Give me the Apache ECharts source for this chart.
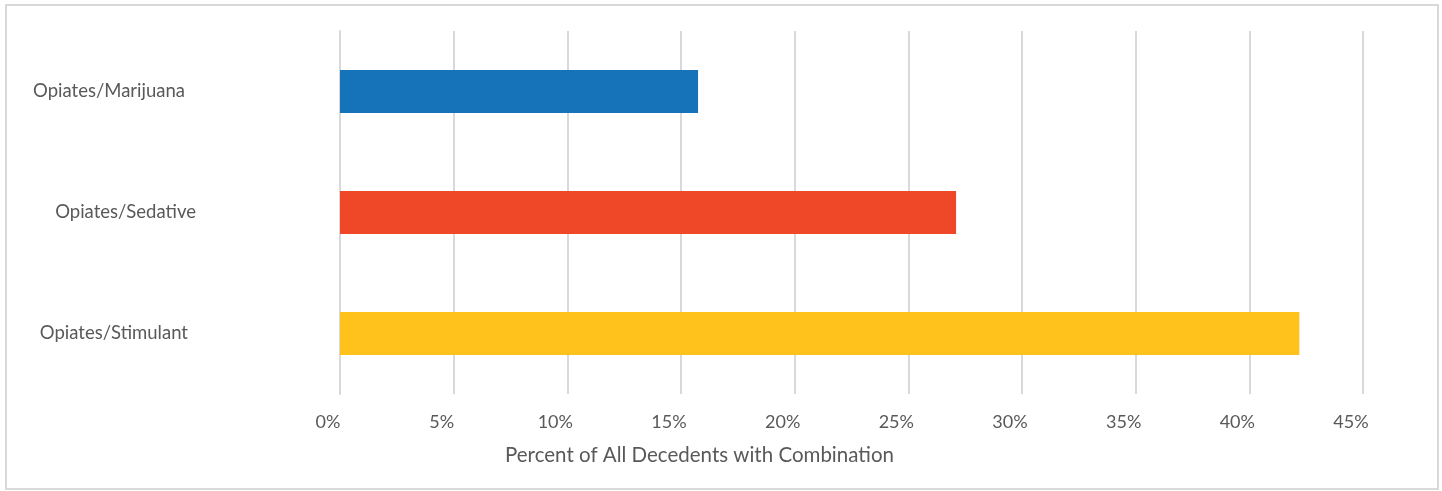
<!DOCTYPE html>
<html><head><meta charset="utf-8">
<script src="https://cdn.jsdelivr.net/npm/echarts@6/dist/echarts.min.js"></script>
<style>html,body{margin:0;padding:0;background:#fff}#c{width:1442px;height:491px}</style>
</head><body><div id="c"></div>
<script>
var categories = ['Opiates/Stimulant', 'Opiates/Sedative', 'Opiates/Marijuana'];
var values = [42.2, 27.1, 15.75];
var barColors = ['#FFC11C', '#EF4829', '#1773B9'];
var tickLabels = ['0%','5%','10%','15%','20%','25%','30%','35%','40%','45%'];
var axisTitle = 'Percent of All Decedents with Combination';
var labelStyleKey = {'Opiates/Stimulant': 'b', 'Opiates/Sedative': 'a', 'Opiates/Marijuana': 'c'};

var FS = 18.5;
var chart = echarts.init(document.getElementById('c'));
chart.setOption({
  animation: false,
  textStyle: {fontFamily: 'Lato, "Open Sans", sans-serif'},
  graphic: [{
    type: 'rect', silent: true,
    shape: {x: 6, y: 5, width: 1432, height: 484},
    style: {fill: 'none', stroke: '#d9d9d9', lineWidth: 2}
  }],
  grid: {left: 340, right: 1442 - 1363, top: 31, bottom: 491 - 394, containLabel: false},
  xAxis: {
    type: 'value', min: 0, max: 45, interval: 5,
    axisLine: {show: false}, axisTick: {show: false},
    splitLine: {lineStyle: {color: '#d9d9d9', width: 2}},
    axisLabel: {
      color: '#595959', fontSize: 18, margin: 19, padding: [0, 24, 0, 0],
      formatter: function (v) { return tickLabels[Math.round(v / 5)]; }
    },
    name: axisTitle, nameLocation: 'middle', nameGap: 51,
    nameTextStyle: {color: '#595959', fontSize: 20.5, padding: [0, 304, 0, 0]}
  },
  yAxis: {
    type: 'category', data: categories,
    axisLine: {show: true, lineStyle: {color: '#d9d9d9', width: 2}},
    axisTick: {show: false},
    axisLabel: {
      color: '#595959', fontSize: FS, margin: 144,
      formatter: function (v) { return '{' + labelStyleKey[v] + '|' + v + '}'; },
      rich: {
        a: {color: '#595959', fontSize: FS},
        b: {color: '#595959', fontSize: FS, padding: [0, 8, 0, 0]},
        c: {color: '#595959', fontSize: FS, padding: [0, 11, 0, 0]}
      }
    }
  },
  series: [{
    type: 'bar', barWidth: '35.5%',
    data: values.map(function (v, i) {
      return {value: v, itemStyle: {color: barColors[i]}};
    })
  }]
});
</script></body></html>
